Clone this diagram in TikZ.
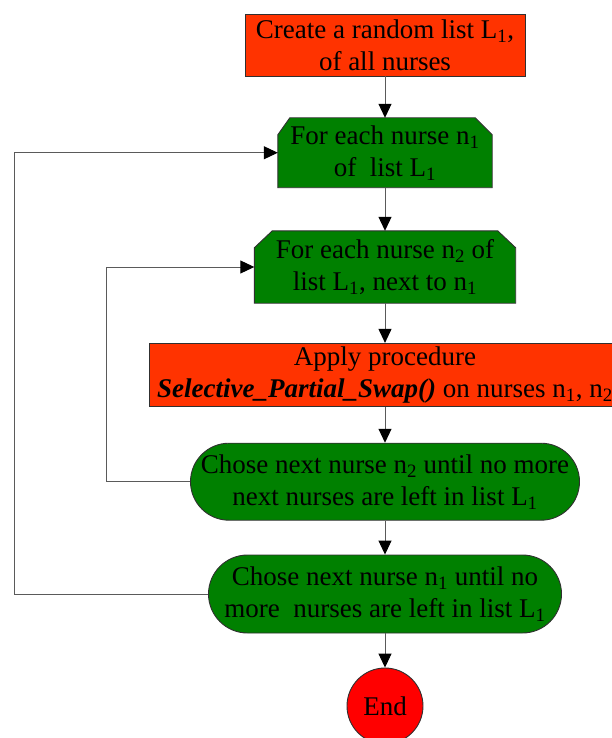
\documentclass[tikz,border=0pt]{standalone}
\usepackage{fontspec}
\setmainfont{Liberation Serif}
\usetikzlibrary{arrows.meta,backgrounds}
\definecolor{procred}{HTML}{FF3300}
\definecolor{loopgreen}{HTML}{008000}
\definecolor{endred}{HTML}{FF0000}
\definecolor{wire}{HTML}{5A5A5A}
\definecolor{edge}{HTML}{303030}
\begin{document}
\begin{tikzpicture}[x=1pt,y=-1pt,
  every node/.style={font=\fontsize{27}{32}\selectfont, align=center, inner sep=0pt},
  redbox/.style={draw=edge, fill=procred, line width=0.9pt},
  textonly/.style={draw=none, fill=none},
  greenshape/.style={draw=edge, fill=loopgreen, line width=0.9pt},
  pillbox/.style={draw=edge, fill=loopgreen, line width=0.9pt},
  endnode/.style={circle, draw=edge, fill=endred, line width=0.9pt, minimum size=76pt},
  flow/.style={draw=wire, line width=1pt, -{Triangle[length=14pt,width=13pt,color=black]}}
]
\useasboundingbox (0,0) rectangle (612,738);

% process steps
\node[redbox, minimum width=280pt, minimum height=62pt] (b1) at (385,45)
  {Create a random list L\textsubscript{1},\\ of all nurses};
\node[textonly, minimum width=214pt, minimum height=69.5pt] (b2) at (385,152.75)
  {For each nurse n\textsubscript{1}\\ of\ \ list L\textsubscript{1}};
\node[textonly, minimum width=261pt, minimum height=72pt] (b3) at (385,267)
  {For each nurse n\textsubscript{2} of\\ list L\textsubscript{1}, next to n\textsubscript{1}};
\node[redbox, minimum width=472pt, minimum height=62.7pt] (b4) at (385,374.7)
  {Apply procedure\\ \textbf{\textit{Selective\_Partial\_Swap()}} on nurses n\textsubscript{1}, n\textsubscript{2}};
\node[pillbox, minimum width=389pt, minimum height=77pt, rounded corners=38.5pt] (b5) at (385,481.7)
  {Chose next nurse n\textsubscript{2} until no more\\ next nurses are left in list L\textsubscript{1}};
\node[pillbox, minimum width=353pt, minimum height=78pt, rounded corners=39pt] (b6) at (385,594)
  {Chose next nurse n\textsubscript{1} until no\\ more\ \ nurses are left in list L\textsubscript{1}};
\node[endnode] (end) at (385,706) {End};

% loop heads with chamfered top corners
\begin{scope}[on background layer]
  \draw[greenshape] (b2.south west) -- ([yshift=-17pt]b2.north west) -- ([xshift=12pt]b2.north west)
    -- ([xshift=-17pt]b2.north east) -- ([yshift=-17pt]b2.north east) -- (b2.south east) -- cycle;
  \draw[greenshape] (b3.south west) -- ([yshift=-17pt]b3.north west) -- ([xshift=18pt]b3.north west)
    -- ([xshift=-18pt]b3.north east) -- ([yshift=-17pt]b3.north east) -- (b3.south east) -- cycle;
\end{scope}

% main flow
\draw[flow] (b1.south) -- (b2.north);
\draw[flow] (b2.south) -- (b3.north);
\draw[flow] (b3.south) -- (b4.north);
\draw[flow] (b4.south) -- (b5.north);
\draw[flow] (b5.south) -- (b6.north);
\draw[flow] (b6.south) -- (end.north);

% loop-back connectors
\coordinate (outer) at (14,0);
\coordinate (inner) at (106,0);
\draw[flow] (b6.west) -- (b6.west -| outer) |- (b2.west);
\draw[flow] (b5.west) -- (b5.west -| inner) |- (b3.west);
\end{tikzpicture}
\end{document}
